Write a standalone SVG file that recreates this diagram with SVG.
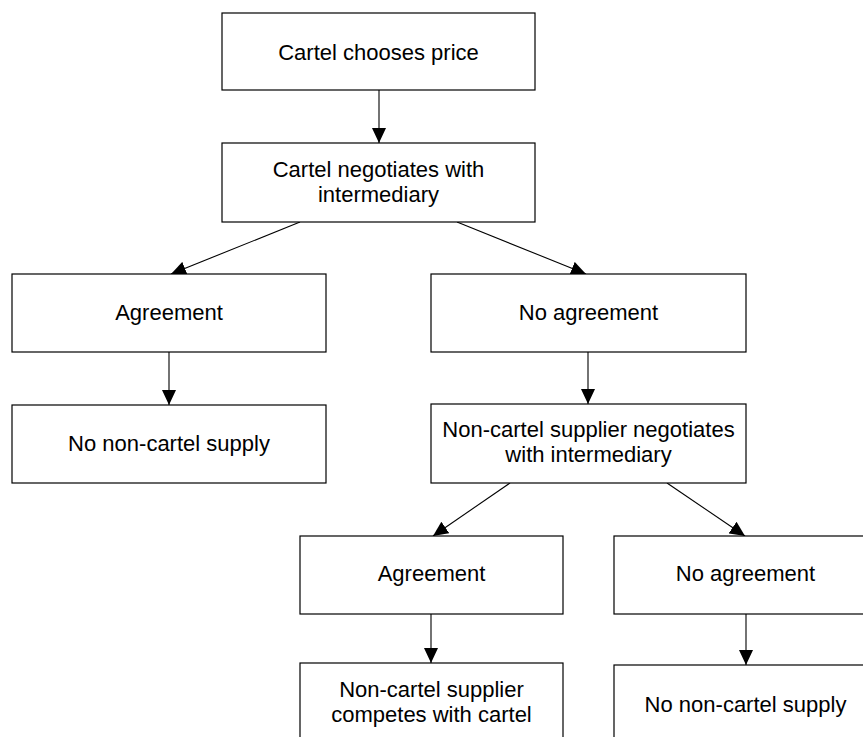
<svg xmlns="http://www.w3.org/2000/svg" width="863" height="737" viewBox="0 0 863 737">
<style>
.box{fill:#fff;stroke:#000;stroke-width:1.2}
.t{font-family:"Liberation Sans",Arial,sans-serif;font-size:22px;fill:#000;text-anchor:middle}
.c{stroke:#000;stroke-width:1.1;fill:none;marker-end:url(#ah)}
</style>
<defs>
<marker id="ah" markerUnits="userSpaceOnUse" markerWidth="16" markerHeight="14" refX="15" refY="7" orient="auto">
<path d="M0,0 L15,7 L0,14 z" fill="#000"/>
</marker>
</defs>
<rect width="863" height="737" fill="#fff"/>
<g id="connectors">
<line class="c" x1="379" y1="90" x2="379" y2="143"/>
<line class="c" x1="300" y1="222" x2="171" y2="274"/>
<line class="c" x1="457" y1="222" x2="586" y2="274"/>
<line class="c" x1="169" y1="352" x2="169" y2="405"/>
<line class="c" x1="588" y1="352" x2="588" y2="404"/>
<line class="c" x1="510" y1="483" x2="433" y2="536"/>
<line class="c" x1="667" y1="483" x2="745" y2="536"/>
<line class="c" x1="431" y1="614" x2="431" y2="663"/>
<line class="c" x1="746" y1="614" x2="746" y2="665"/>
</g>
<g id="n1"><rect class="box" x="222" y="13" width="313" height="77"/><text class="t" x="378.5" y="60">Cartel chooses price</text></g>
<g id="n2"><rect class="box" x="222" y="143" width="313" height="79"/><text class="t" x="378.5" y="177">Cartel negotiates with</text><text class="t" x="378.5" y="202">intermediary</text></g>
<g id="n3"><rect class="box" x="12" y="274" width="314" height="78"/><text class="t" x="169" y="320">Agreement</text></g>
<g id="n4"><rect class="box" x="12" y="405" width="314" height="78"/><text class="t" x="169" y="451">No non-cartel supply</text></g>
<g id="n5"><rect class="box" x="431" y="274" width="315" height="78"/><text class="t" x="588.5" y="320">No agreement</text></g>
<g id="n6"><rect class="box" x="431" y="404" width="315" height="79"/><text class="t" x="588.5" y="437">Non-cartel supplier negotiates</text><text class="t" x="588.5" y="462">with intermediary</text></g>
<g id="n7"><rect class="box" x="300" y="536" width="263" height="78"/><text class="t" x="431.5" y="581">Agreement</text></g>
<g id="n8"><rect class="box" x="300" y="663" width="263" height="78"/><text class="t" x="431.5" y="697">Non-cartel supplier</text><text class="t" x="431.5" y="722">competes with cartel</text></g>
<g id="n9"><rect class="box" x="614" y="536" width="263" height="78"/><text class="t" x="745.5" y="581">No agreement</text></g>
<g id="n10"><rect class="box" x="614" y="665" width="263" height="78"/><text class="t" x="745.5" y="712">No non-cartel supply</text></g>
</svg>
